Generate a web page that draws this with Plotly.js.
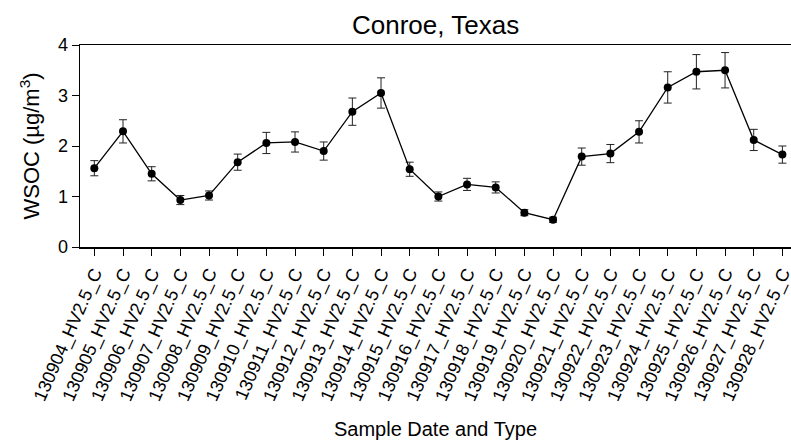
<!DOCTYPE html>
<html>
<head>
<meta charset="utf-8">
<script src="https://cdn.plot.ly/plotly-3.0.1.min.js"></script>
<style>html,body{margin:0;padding:0;background:#fff;}#chart{width:791px;height:444px;}</style>
</head>
<body>
<div id="chart"></div>
<script>
const categories = ["130904_HV2.5_C","130905_HV2.5_C","130906_HV2.5_C","130907_HV2.5_C","130908_HV2.5_C","130909_HV2.5_C","130910_HV2.5_C","130911_HV2.5_C","130912_HV2.5_C","130913_HV2.5_C","130914_HV2.5_C","130915_HV2.5_C","130916_HV2.5_C","130917_HV2.5_C","130918_HV2.5_C","130919_HV2.5_C","130920_HV2.5_C","130921_HV2.5_C","130922_HV2.5_C","130923_HV2.5_C","130924_HV2.5_C","130925_HV2.5_C","130926_HV2.5_C","130927_HV2.5_C","130928_HV2.5_C"];
const wsoc = [1.56,2.29,1.45,0.93,1.02,1.68,2.06,2.08,1.90,2.68,3.05,1.54,1.00,1.24,1.18,0.68,0.54,1.79,1.85,2.28,3.16,3.47,3.50,2.12,1.83];
const wsocErr = [0.15,0.23,0.14,0.09,0.09,0.16,0.21,0.20,0.18,0.27,0.30,0.14,0.09,0.12,0.11,0.06,0.05,0.17,0.18,0.22,0.31,0.34,0.35,0.21,0.17];
const yTicks = [0,1,2,3,4];

const trace = {
  x: categories.map((c,i)=>i),
  y: wsoc,
  type: 'scatter',
  mode: 'lines+markers',
  line: {color:'#000', width:1.3},
  marker: {color:'#000', size:8},
  error_y: {type:'data', array: wsocErr, visible:true, color:'#222', thickness:1, width:4},
  showlegend:false,
  cliponaxis:false
};

const layout = {
  width:791, height:444,
  margin:{l:80, r:0, t:45, b:197},
  paper_bgcolor:'#fff', plot_bgcolor:'#fff',
  font:{family:'Liberation Sans, Arial, sans-serif', color:'#000'},
  title:{text:'Conroe, Texas', font:{size:26, color:'#000'}, x:0.5507, xanchor:'center', y:0.945, yanchor:'middle'},
  xaxis:{
    range:[-0.5,24.3],
    tickmode:'array',
    tickvals: categories.map((c,i)=>i),
    ticktext: categories,
    tickangle:-66,
    tickfont:{size:18, color:'#000'},
    ticklabeloverflow:'allow',
    ticks:'outside', ticklen:7, tickcolor:'#000', tickwidth:1,
    showline:true, linecolor:'#000', linewidth:1.5, mirror:true,
    showgrid:false, zeroline:false,
    title:{text:'Sample Date and Type', font:{size:20, color:'#000'}, standoff:18}
  },
  yaxis:{
    range:[0,4],
    tickmode:'array', tickvals:yTicks, ticktext:yTicks.map(String),
    tickfont:{size:18, color:'#000'},
    ticks:'outside', ticklen:7, tickcolor:'#000', tickwidth:1,
    showline:true, linecolor:'#000', linewidth:1.5,
    showgrid:false, zeroline:false,
    title:{text:'WSOC (µg/m<sup>3</sup>)', font:{size:22, color:'#000'}, standoff:12}
  }
};

Plotly.newPlot('chart',[trace],layout,{displayModeBar:false, staticPlot:true});
</script>
</body>
</html>
